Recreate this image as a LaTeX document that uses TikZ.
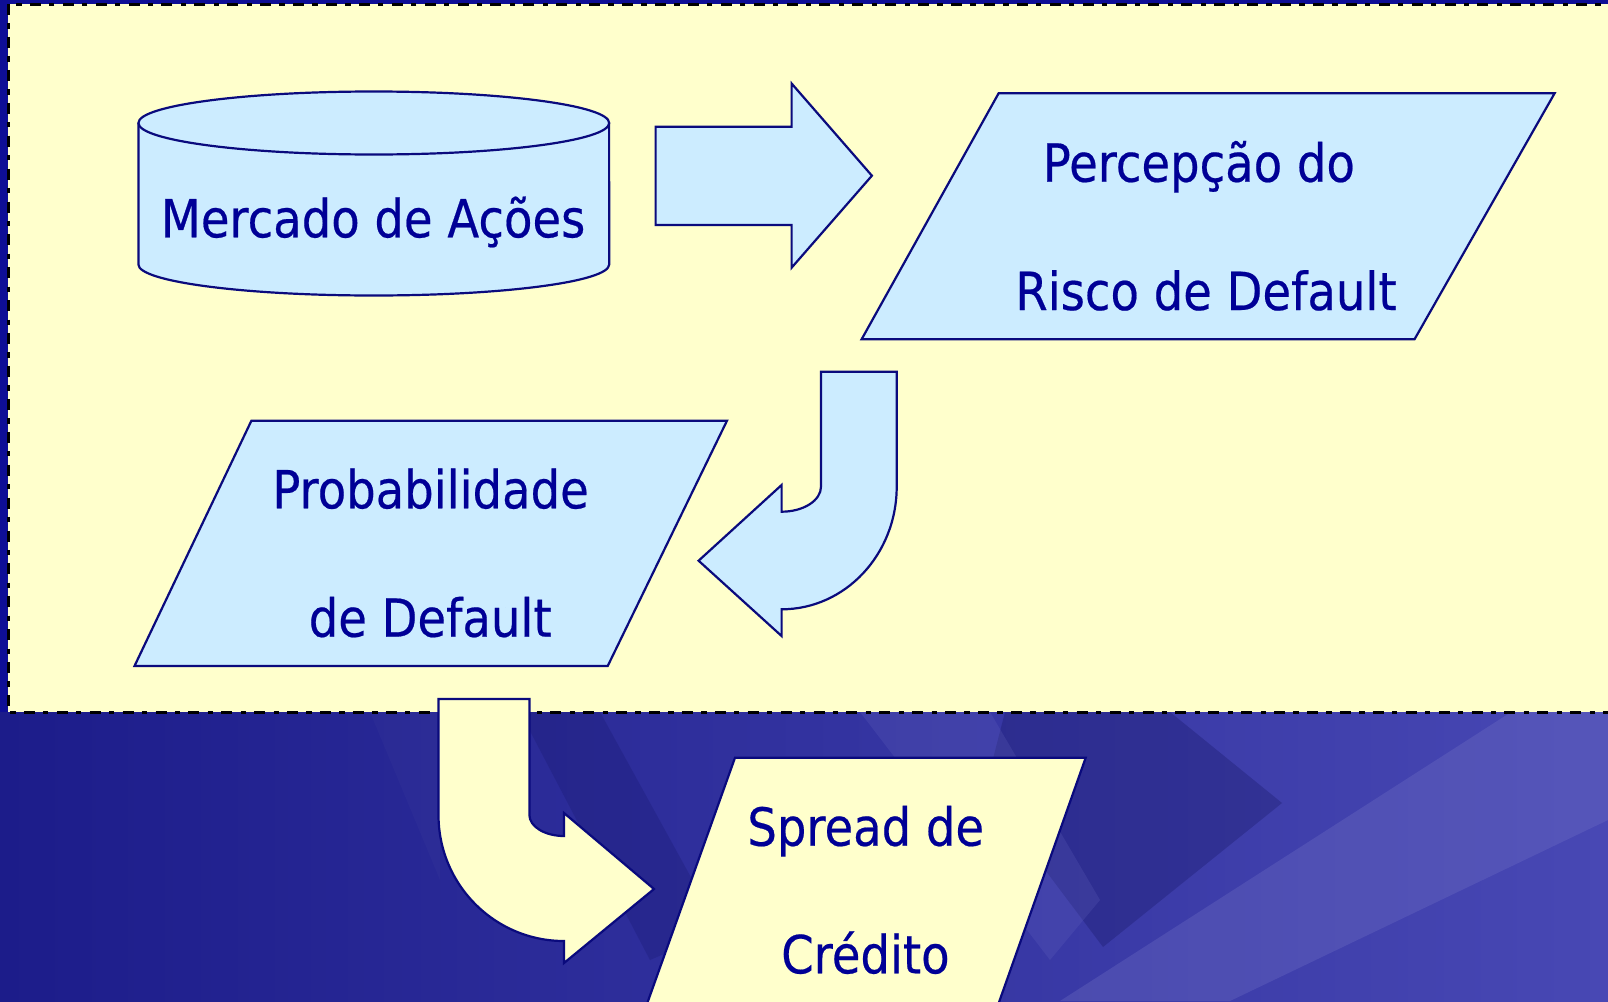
\documentclass[tikz,border=0pt]{standalone}
\usepackage{fontspec}
\newfontfamily\lblfont[FakeStretch=0.886,FakeBold=0.4]{DejaVu Sans}
\definecolor{bgL}{RGB}{28,28,138}
\definecolor{bgR}{RGB}{72,72,180}
\definecolor{bgTop}{RGB}{14,14,150}
\definecolor{panelY}{RGB}{255,255,204}
\definecolor{lblue}{RGB}{204,236,255}
\definecolor{navy}{RGB}{10,10,125}
\definecolor{txt}{RGB}{0,0,150}
\tikzset{
  shapeline/.style={draw=navy, line width=2.2pt, line join=miter},
  bluefill/.style={shapeline, fill=lblue},
  yellowfill/.style={shapeline, fill=panelY},
  lbl/.style={anchor=base, inner sep=0pt, text=txt, font=\lblfont\fontsize{52.5}{60}\selectfont},
  panelborder/.style={draw=black, line width=3pt, dash pattern=on 11pt off 8.3pt on 5.3pt off 8.3pt}
}
\begin{document}
\begin{tikzpicture}[x=1pt,y=-1pt]
\useasboundingbox (0,0) rectangle (1608,1001);
\clip (0,0) rectangle (1608,1001);
% background
\shade[left color=bgL, right color=bgR] (0,0) rectangle (1608,1001);
\fill[bgTop] (0,0) rectangle (1608,8);
\fill[bgTop] (0,0) rectangle (10,712);
% decorative background bands (soft)
\fill[black!30!bgL, opacity=0.3] (1005,712) -- (1170,712) -- (1282,803) -- (1103,947) -- (985,790) -- cycle;
\fill[white!25!bgR, opacity=0.3] (1060,1001) -- (1608,650) -- (1608,820) -- (1230,1001) -- cycle;
\fill[white!20!bgR, opacity=0.2] (860,712) -- (990,712) -- (1100,900) -- (1050,960) -- cycle;
\fill[black!25!bgL, opacity=0.25] (520,712) -- (600,712) -- (720,930) -- (650,960) -- cycle;
\fill[white!15!bgL, opacity=0.2] (370,712) -- (440,712) -- (440,880) -- cycle;
% yellow panel
\fill[panelY] (8,4) rectangle (1620,712);
\draw[panelborder] (1620,4) -- (8,4) -- (8,712) -- (1620,712);
% cylinder: Mercado de Acoes
\fill[lblue] (138.4,123) -- (138.4,264.5) arc[start angle=180, end angle=0, x radius=235.4, y radius=31] -- (609.1,123) -- cycle;
\draw[shapeline] (138.4,123) -- (138.4,264.5) arc[start angle=180, end angle=0, x radius=235.4, y radius=31] -- (609.1,123);
\draw[bluefill] (373.8,123) ellipse [x radius=235.4, y radius=31.5];
\node[lbl] (merc) at (373,237.3) {Mercado de Ações};
% block arrow right
\draw[bluefill] (655.6,126.7) -- (791.6,126.7) -- (791.6,83.5) -- (871.9,175.7) -- (791.6,267.7) -- (791.6,225) -- (655.6,225) -- cycle;
% parallelogram 1
\draw[bluefill] (998.6,93.3) -- (1554.6,93.3) -- (1414.5,339.3) -- (861.6,339.3) -- cycle;
\node[lbl] (perc1) at (1198.8,181.7) {Percepção do};
\node[lbl] (perc2) at (1206,310) {Risco de Default};
% curved arrow 2
\draw[bluefill] (821,371.7) -- (821,486.7)
  arc[start angle=0, end angle=90, x radius=39.4, y radius=25]
  -- (781.6,485) -- (698.6,560.7) -- (781.6,636) -- (781.6,609.3)
  arc[start angle=90, end angle=0, x radius=115.1, y radius=122.6]
  -- (896.7,371.7) -- cycle;
% parallelogram 2
\draw[bluefill] (251.4,420.7) -- (727,420.7) -- (607.7,666) -- (134.5,666) -- cycle;
\node[lbl] (prob1) at (430.5,508.3) {Probabilidade};
\node[lbl] (prob2) at (430.2,636.7) {de Default};
% curved arrow 3
\draw[yellowfill] (529.4,699) -- (529.4,815)
  arc[start angle=180, end angle=90, x radius=34.6, y radius=21]
  -- (564,813) -- (654,889) -- (564,963) -- (564,941)
  arc[start angle=90, end angle=180, x radius=125.5, y radius=126]
  -- (438.5,699) -- cycle;
% parallelogram 3
\draw[yellowfill] (735,757.7) -- (1085.7,757.7) -- (985.6,1040) -- (634.1,1040) -- cycle;
\node[lbl] (spr1) at (865.7,845.7) {Spread de};
\node[lbl] (spr2) at (865.4,973.3) {Crédito};
\end{tikzpicture}
\end{document}
